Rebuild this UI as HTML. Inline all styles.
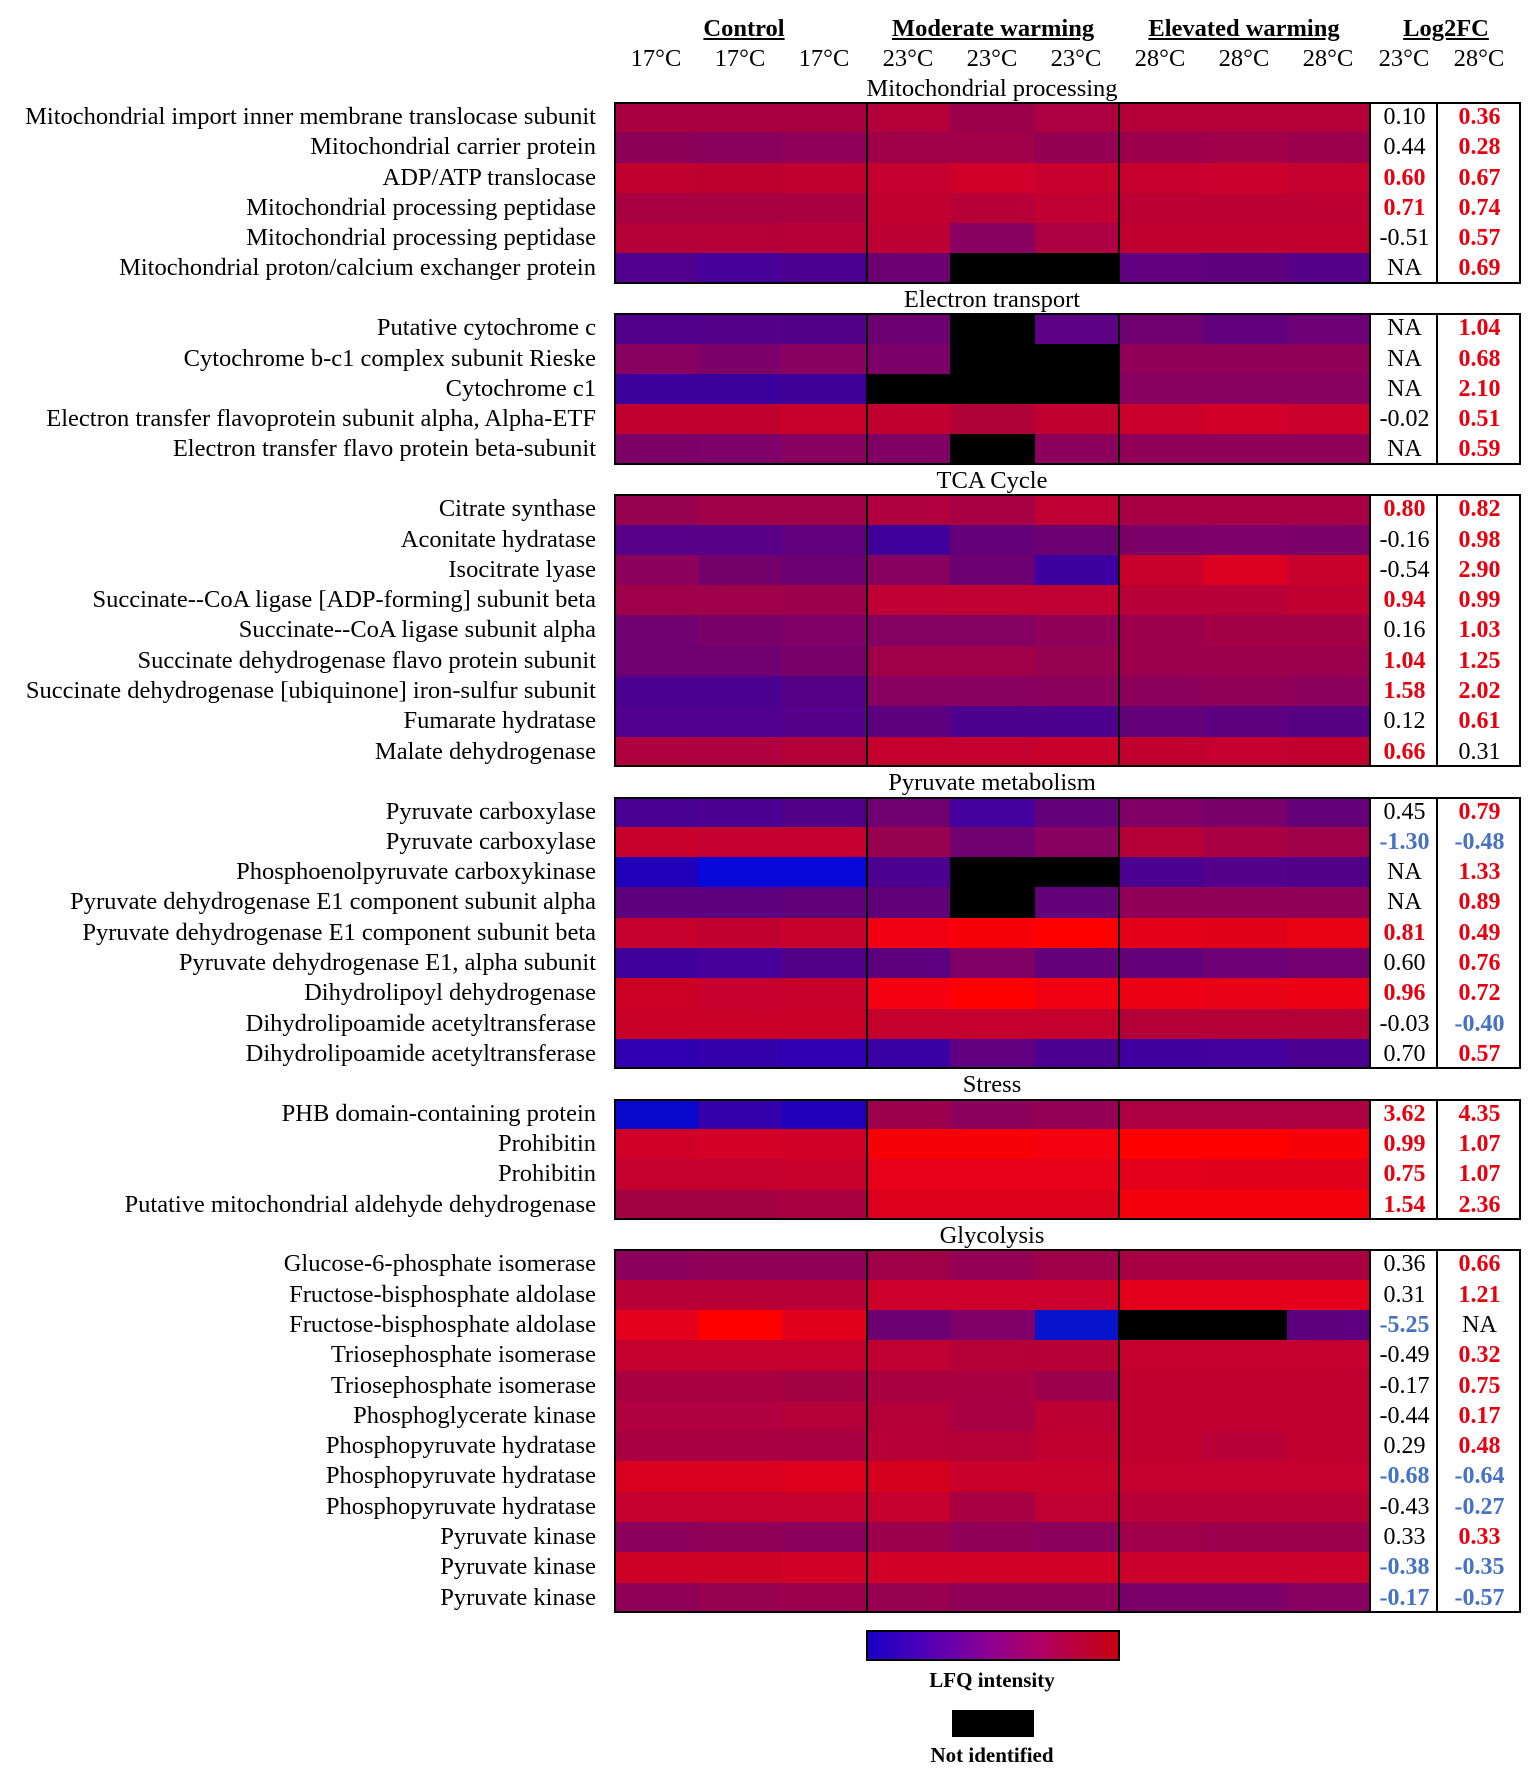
<!DOCTYPE html>
<html><head><meta charset="utf-8"><style>
*{margin:0;padding:0;box-sizing:border-box}
body{width:1535px;height:1772px;background:#fff;position:relative;font-family:"Liberation Serif",serif;color:#000;overflow:hidden}
.h{position:absolute;font-size:24.5px;line-height:26px;text-align:center;white-space:nowrap}
.g{font-weight:bold;text-decoration:underline}
.blk{position:absolute;left:614px;width:907px}
.r{position:relative;height:30.3px;display:flex}
.r i{display:block;width:84.11px;height:100%}
.r b{display:block;height:100%;font-weight:normal;font-size:24px;line-height:30.3px;text-align:center;background:#fff;white-space:nowrap;overflow:visible}
.r b:nth-of-type(1){width:67px}.r b:nth-of-type(2){width:83px}
.r span{position:absolute;right:925px;top:0;line-height:30.3px;font-size:24.5px;white-space:nowrap}
.red{color:#e8000e;font-weight:bold!important}.blu{color:#4472c4;font-weight:bold!important}
.o{position:absolute;top:0;bottom:0;border:2px solid #000}
.st{position:absolute;left:792px;width:400px;text-align:center;font-size:24.5px;line-height:26px}
</style></head><body>
<div class="h g" style="left:644px;width:200px;top:16px">Control</div>
<div class="h g" style="left:892px;width:200px;top:16px">Moderate warming</div>
<div class="h g" style="left:1144px;width:200px;top:16px">Elevated warming</div>
<div class="h g" style="left:1346px;width:200px;top:16px">Log2FC</div>
<div class="h" style="left:616px;width:80px;top:46px">17°C</div>
<div class="h" style="left:700px;width:80px;top:46px">17°C</div>
<div class="h" style="left:784px;width:80px;top:46px">17°C</div>
<div class="h" style="left:868px;width:80px;top:46px">23°C</div>
<div class="h" style="left:952px;width:80px;top:46px">23°C</div>
<div class="h" style="left:1036px;width:80px;top:46px">23°C</div>
<div class="h" style="left:1120px;width:80px;top:46px">28°C</div>
<div class="h" style="left:1204px;width:80px;top:46px">28°C</div>
<div class="h" style="left:1288px;width:80px;top:46px">28°C</div>
<div class="h" style="left:1364px;width:80px;top:46px">23°C</div>
<div class="h" style="left:1439px;width:80px;top:46px">28°C</div>

<div class="st" style="top:76px">Mitochondrial processing</div>
<div class="blk" style="top:102px">
<div class="r"><span>Mitochondrial import inner membrane translocase subunit</span><i style="background:#a8003e"></i><i style="background:#a8003e"></i><i style="background:#a8003e"></i><i style="background:#b4003a"></i><i style="background:#9c004a"></i><i style="background:#ac0040"></i><i style="background:#b4003a"></i><i style="background:#b4003a"></i><i style="background:#b4003a"></i><b>0.10</b><b class="red">0.36</b></div>
<div class="r"><span>Mitochondrial carrier protein</span><i style="background:#8c0058"></i><i style="background:#88005a"></i><i style="background:#90005a"></i><i style="background:#a00048"></i><i style="background:#a00048"></i><i style="background:#940052"></i><i style="background:#9c004c"></i><i style="background:#a00048"></i><i style="background:#9c004c"></i><b>0.44</b><b class="red">0.28</b></div>
<div class="r"><span>ADP/ATP translocase</span><i style="background:#c0002e"></i><i style="background:#bc0030"></i><i style="background:#c00030"></i><i style="background:#c40030"></i><i style="background:#d0002a"></i><i style="background:#c8002e"></i><i style="background:#c8002e"></i><i style="background:#cc002c"></i><i style="background:#c4002e"></i><b class="red">0.60</b><b class="red">0.67</b></div>
<div class="r"><span>Mitochondrial processing peptidase</span><i style="background:#a80040"></i><i style="background:#a80040"></i><i style="background:#a8003e"></i><i style="background:#c0002e"></i><i style="background:#b80038"></i><i style="background:#c00032"></i><i style="background:#bc0034"></i><i style="background:#bc0034"></i><i style="background:#bc0034"></i><b class="red">0.71</b><b class="red">0.74</b></div>
<div class="r"><span>Mitochondrial processing peptidase</span><i style="background:#b40038"></i><i style="background:#b40038"></i><i style="background:#b80036"></i><i style="background:#bc0034"></i><i style="background:#880060"></i><i style="background:#ac0042"></i><i style="background:#c0002e"></i><i style="background:#c0002e"></i><i style="background:#c0002e"></i><b>-0.51</b><b class="red">0.57</b></div>
<div class="r"><span>Mitochondrial proton/calcium exchanger protein</span><i style="background:#50008c"></i><i style="background:#48009a"></i><i style="background:#4c0090"></i><i style="background:#6c0070"></i><i style="background:#000"></i><i style="background:#000"></i><i style="background:#600080"></i><i style="background:#5c0080"></i><i style="background:#56008a"></i><b>NA</b><b class="red">0.69</b></div>
<div class="o" style="left:0;width:757px"></div><div class="o" style="left:252px;width:254px"></div><div class="o" style="left:755px;width:69px"></div><div class="o" style="left:822px;width:85px"></div>
</div>

<div class="st" style="top:287px">Electron transport</div>
<div class="blk" style="top:313.3px">
<div class="r"><span>Putative cytochrome c</span><i style="background:#50008a"></i><i style="background:#54008a"></i><i style="background:#52008a"></i><i style="background:#6c0070"></i><i style="background:#000"></i><i style="background:#5c0084"></i><i style="background:#700070"></i><i style="background:#60007c"></i><i style="background:#6c0074"></i><b>NA</b><b class="red">1.04</b></div>
<div class="r"><span>Cytochrome b-c1 complex subunit Rieske</span><i style="background:#880060"></i><i style="background:#7c0068"></i><i style="background:#880060"></i><i style="background:#7c0068"></i><i style="background:#000"></i><i style="background:#000"></i><i style="background:#900058"></i><i style="background:#900058"></i><i style="background:#900058"></i><b>NA</b><b class="red">0.68</b></div>
<div class="r"><span>Cytochrome c1</span><i style="background:#3c009c"></i><i style="background:#3c009c"></i><i style="background:#400098"></i><i style="background:#000"></i><i style="background:#000"></i><i style="background:#000"></i><i style="background:#880060"></i><i style="background:#880060"></i><i style="background:#880060"></i><b>NA</b><b class="red">2.10</b></div>
<div class="r"><span>Electron transfer flavoprotein subunit alpha, Alpha-ETF</span><i style="background:#c0002e"></i><i style="background:#c0002e"></i><i style="background:#c8002c"></i><i style="background:#c0002e"></i><i style="background:#b00038"></i><i style="background:#c0002e"></i><i style="background:#cc002c"></i><i style="background:#d0002a"></i><i style="background:#cc002c"></i><b>-0.02</b><b class="red">0.51</b></div>
<div class="r"><span>Electron transfer flavo protein beta-subunit</span><i style="background:#7c0066"></i><i style="background:#80006a"></i><i style="background:#880060"></i><i style="background:#800064"></i><i style="background:#000"></i><i style="background:#8c005c"></i><i style="background:#900058"></i><i style="background:#900058"></i><i style="background:#900058"></i><b>NA</b><b class="red">0.59</b></div>
<div class="o" style="left:0;width:757px"></div><div class="o" style="left:252px;width:254px"></div><div class="o" style="left:755px;width:69px"></div><div class="o" style="left:822px;width:85px"></div>
</div>

<div class="st" style="top:468px">TCA Cycle</div>
<div class="blk" style="top:494.3px">
<div class="r"><span>Citrate synthase</span><i style="background:#980050"></i><i style="background:#a00048"></i><i style="background:#a00048"></i><i style="background:#b0003e"></i><i style="background:#a80042"></i><i style="background:#c00034"></i><i style="background:#a80044"></i><i style="background:#a80044"></i><i style="background:#a80044"></i><b class="red">0.80</b><b class="red">0.82</b></div>
<div class="r"><span>Aconitate hydratase</span><i style="background:#58008a"></i><i style="background:#5a0088"></i><i style="background:#60007c"></i><i style="background:#40009a"></i><i style="background:#640078"></i><i style="background:#6c0070"></i><i style="background:#7c0068"></i><i style="background:#80006a"></i><i style="background:#7c0068"></i><b>-0.16</b><b class="red">0.98</b></div>
<div class="r"><span>Isocitrate lyase</span><i style="background:#8c005c"></i><i style="background:#74006c"></i><i style="background:#6c0070"></i><i style="background:#880060"></i><i style="background:#6c0070"></i><i style="background:#3c00a0"></i><i style="background:#c8002c"></i><i style="background:#dc0020"></i><i style="background:#c8002c"></i><b>-0.54</b><b class="red">2.90</b></div>
<div class="r"><span>Succinate--CoA ligase [ADP-forming] subunit beta</span><i style="background:#a0004a"></i><i style="background:#a0004a"></i><i style="background:#9c004c"></i><i style="background:#c00034"></i><i style="background:#c00032"></i><i style="background:#c00032"></i><i style="background:#b80038"></i><i style="background:#b80038"></i><i style="background:#c00030"></i><b class="red">0.94</b><b class="red">0.99</b></div>
<div class="r"><span>Succinate--CoA ligase subunit alpha</span><i style="background:#700070"></i><i style="background:#780068"></i><i style="background:#800068"></i><i style="background:#840062"></i><i style="background:#840062"></i><i style="background:#900058"></i><i style="background:#9c004c"></i><i style="background:#a40046"></i><i style="background:#a40046"></i><b>0.16</b><b class="red">1.03</b></div>
<div class="r"><span>Succinate dehydrogenase flavo protein subunit</span><i style="background:#700070"></i><i style="background:#700070"></i><i style="background:#780068"></i><i style="background:#a00048"></i><i style="background:#a00048"></i><i style="background:#980050"></i><i style="background:#9c004c"></i><i style="background:#9c004c"></i><i style="background:#9c004c"></i><b class="red">1.04</b><b class="red">1.25</b></div>
<div class="r"><span>Succinate dehydrogenase [ubiquinone] iron-sulfur subunit</span><i style="background:#4c0090"></i><i style="background:#4c0090"></i><i style="background:#540084"></i><i style="background:#880060"></i><i style="background:#880060"></i><i style="background:#8c005c"></i><i style="background:#8c005c"></i><i style="background:#900058"></i><i style="background:#8c005c"></i><b class="red">1.58</b><b class="red">2.02</b></div>
<div class="r"><span>Fumarate hydratase</span><i style="background:#50008c"></i><i style="background:#50008c"></i><i style="background:#54008a"></i><i style="background:#5c0080"></i><i style="background:#4c008c"></i><i style="background:#4c008c"></i><i style="background:#640078"></i><i style="background:#5c0080"></i><i style="background:#580084"></i><b>0.12</b><b class="red">0.61</b></div>
<div class="r"><span>Malate dehydrogenase</span><i style="background:#b0003e"></i><i style="background:#b00040"></i><i style="background:#b40038"></i><i style="background:#c4002e"></i><i style="background:#c4002e"></i><i style="background:#c8002c"></i><i style="background:#c0002e"></i><i style="background:#c40030"></i><i style="background:#c0002e"></i><b class="red">0.66</b><b>0.31</b></div>
<div class="o" style="left:0;width:757px"></div><div class="o" style="left:252px;width:254px"></div><div class="o" style="left:755px;width:69px"></div><div class="o" style="left:822px;width:85px"></div>
</div>

<div class="st" style="top:770px">Pyruvate metabolism</div>
<div class="blk" style="top:796.5px">
<div class="r"><span>Pyruvate carboxylase</span><i style="background:#480094"></i><i style="background:#4c0090"></i><i style="background:#500088"></i><i style="background:#700070"></i><i style="background:#44009a"></i><i style="background:#640078"></i><i style="background:#800068"></i><i style="background:#780068"></i><i style="background:#640078"></i><b>0.45</b><b class="red">0.79</b></div>
<div class="r"><span>Pyruvate carboxylase</span><i style="background:#c8002c"></i><i style="background:#c40030"></i><i style="background:#c40030"></i><i style="background:#980050"></i><i style="background:#700070"></i><i style="background:#880060"></i><i style="background:#b40038"></i><i style="background:#a80042"></i><i style="background:#a00048"></i><b class="blu">-1.30</b><b class="blu">-0.48</b></div>
<div class="r"><span>Phosphoenolpyruvate carboxykinase</span><i style="background:#2000b8"></i><i style="background:#0808d8"></i><i style="background:#0808d8"></i><i style="background:#4c0090"></i><i style="background:#000"></i><i style="background:#000"></i><i style="background:#4c0090"></i><i style="background:#54008a"></i><i style="background:#500088"></i><b>NA</b><b class="red">1.33</b></div>
<div class="r"><span>Pyruvate dehydrogenase E1 component subunit alpha</span><i style="background:#5c0080"></i><i style="background:#5c0080"></i><i style="background:#600078"></i><i style="background:#600078"></i><i style="background:#000"></i><i style="background:#640078"></i><i style="background:#900058"></i><i style="background:#900058"></i><i style="background:#900058"></i><b>NA</b><b class="red">0.89</b></div>
<div class="r"><span>Pyruvate dehydrogenase E1 component subunit beta</span><i style="background:#c4002e"></i><i style="background:#c00030"></i><i style="background:#c8002c"></i><i style="background:#f00010"></i><i style="background:#f80008"></i><i style="background:#ff0000"></i><i style="background:#e40018"></i><i style="background:#e00018"></i><i style="background:#e80014"></i><b class="red">0.81</b><b class="red">0.49</b></div>
<div class="r"><span>Pyruvate dehydrogenase E1, alpha subunit</span><i style="background:#40009a"></i><i style="background:#48009a"></i><i style="background:#500088"></i><i style="background:#5c0080"></i><i style="background:#800068"></i><i style="background:#640078"></i><i style="background:#640078"></i><i style="background:#6c0074"></i><i style="background:#740070"></i><b>0.60</b><b class="red">0.76</b></div>
<div class="r"><span>Dihydrolipoyl dehydrogenase</span><i style="background:#cc0024"></i><i style="background:#c80030"></i><i style="background:#c8002c"></i><i style="background:#f40010"></i><i style="background:#ff0000"></i><i style="background:#f00010"></i><i style="background:#ec0014"></i><i style="background:#e80016"></i><i style="background:#ec0014"></i><b class="red">0.96</b><b class="red">0.72</b></div>
<div class="r"><span>Dihydrolipoamide acetyltransferase</span><i style="background:#c80028"></i><i style="background:#c80028"></i><i style="background:#c80028"></i><i style="background:#c4002e"></i><i style="background:#c4002e"></i><i style="background:#c4002e"></i><i style="background:#b40038"></i><i style="background:#b40038"></i><i style="background:#b40038"></i><b>-0.03</b><b class="blu">-0.40</b></div>
<div class="r"><span>Dihydrolipoamide acetyltransferase</span><i style="background:#3000b0"></i><i style="background:#3400ac"></i><i style="background:#3000b0"></i><i style="background:#3a00a4"></i><i style="background:#600080"></i><i style="background:#4c0090"></i><i style="background:#4000a0"></i><i style="background:#44009a"></i><i style="background:#4c0090"></i><b>0.70</b><b class="red">0.57</b></div>
<div class="o" style="left:0;width:757px"></div><div class="o" style="left:252px;width:254px"></div><div class="o" style="left:755px;width:69px"></div><div class="o" style="left:822px;width:85px"></div>
</div>

<div class="st" style="top:1072px">Stress</div>
<div class="blk" style="top:1098.7px">
<div class="r"><span>PHB domain-containing protein</span><i style="background:#0808cc"></i><i style="background:#3400ac"></i><i style="background:#2000b8"></i><i style="background:#9c004c"></i><i style="background:#8c005c"></i><i style="background:#940054"></i><i style="background:#ac0040"></i><i style="background:#ac0040"></i><i style="background:#ac0040"></i><b class="red">3.62</b><b class="red">4.35</b></div>
<div class="r"><span>Prohibitin</span><i style="background:#d00028"></i><i style="background:#d40026"></i><i style="background:#d00028"></i><i style="background:#f80008"></i><i style="background:#f80008"></i><i style="background:#f40010"></i><i style="background:#ff0000"></i><i style="background:#ff0000"></i><i style="background:#f80008"></i><b class="red">0.99</b><b class="red">1.07</b></div>
<div class="r"><span>Prohibitin</span><i style="background:#c4002e"></i><i style="background:#c4002e"></i><i style="background:#c8002c"></i><i style="background:#e8001a"></i><i style="background:#e8001a"></i><i style="background:#e8001a"></i><i style="background:#e4001a"></i><i style="background:#e0001c"></i><i style="background:#e0001c"></i><b class="red">0.75</b><b class="red">1.07</b></div>
<div class="r"><span>Putative mitochondrial aldehyde dehydrogenase</span><i style="background:#a40044"></i><i style="background:#a40044"></i><i style="background:#a80040"></i><i style="background:#dc001e"></i><i style="background:#dc001e"></i><i style="background:#dc001e"></i><i style="background:#f4000c"></i><i style="background:#f4000c"></i><i style="background:#f4000c"></i><b class="red">1.54</b><b class="red">2.36</b></div>
<div class="o" style="left:0;width:757px"></div><div class="o" style="left:252px;width:254px"></div><div class="o" style="left:755px;width:69px"></div><div class="o" style="left:822px;width:85px"></div>
</div>

<div class="st" style="top:1223px">Glycolysis</div>
<div class="blk" style="top:1249.4px">
<div class="r"><span>Glucose-6-phosphate isomerase</span><i style="background:#8c005c"></i><i style="background:#900058"></i><i style="background:#900058"></i><i style="background:#a00048"></i><i style="background:#940054"></i><i style="background:#a00048"></i><i style="background:#a80042"></i><i style="background:#a80042"></i><i style="background:#a80042"></i><b>0.36</b><b class="red">0.66</b></div>
<div class="r"><span>Fructose-bisphosphate aldolase</span><i style="background:#b80036"></i><i style="background:#b80036"></i><i style="background:#b80036"></i><i style="background:#cc002a"></i><i style="background:#cc002a"></i><i style="background:#cc002a"></i><i style="background:#e4001a"></i><i style="background:#e4001a"></i><i style="background:#e4001a"></i><b>0.31</b><b class="red">1.21</b></div>
<div class="r"><span>Fructose-bisphosphate aldolase</span><i style="background:#e4001c"></i><i style="background:#ff0000"></i><i style="background:#e0001c"></i><i style="background:#6c0070"></i><i style="background:#800068"></i><i style="background:#0814cc"></i><i style="background:#000"></i><i style="background:#000"></i><i style="background:#5c0080"></i><b class="blu">-5.25</b><b>NA</b></div>
<div class="r"><span>Triosephosphate isomerase</span><i style="background:#c4002e"></i><i style="background:#c4002e"></i><i style="background:#c4002e"></i><i style="background:#c00032"></i><i style="background:#b40038"></i><i style="background:#b80036"></i><i style="background:#c4002e"></i><i style="background:#c4002e"></i><i style="background:#c4002e"></i><b>-0.49</b><b class="red">0.32</b></div>
<div class="r"><span>Triosephosphate isomerase</span><i style="background:#a80040"></i><i style="background:#a80040"></i><i style="background:#a40044"></i><i style="background:#a80040"></i><i style="background:#a80040"></i><i style="background:#9c004c"></i><i style="background:#c00030"></i><i style="background:#c00030"></i><i style="background:#c00030"></i><b>-0.17</b><b class="red">0.75</b></div>
<div class="r"><span>Phosphoglycerate kinase</span><i style="background:#b00040"></i><i style="background:#b00040"></i><i style="background:#b40038"></i><i style="background:#b4003a"></i><i style="background:#a80042"></i><i style="background:#bc0034"></i><i style="background:#c00030"></i><i style="background:#c00030"></i><i style="background:#c00030"></i><b>-0.44</b><b class="red">0.17</b></div>
<div class="r"><span>Phosphopyruvate hydratase</span><i style="background:#a80042"></i><i style="background:#a80042"></i><i style="background:#a80042"></i><i style="background:#b80038"></i><i style="background:#b40038"></i><i style="background:#c00030"></i><i style="background:#c00030"></i><i style="background:#b80036"></i><i style="background:#c00030"></i><b>0.29</b><b class="red">0.48</b></div>
<div class="r"><span>Phosphopyruvate hydratase</span><i style="background:#d8001e"></i><i style="background:#d8001e"></i><i style="background:#dc001c"></i><i style="background:#d4001e"></i><i style="background:#c8002a"></i><i style="background:#c8002c"></i><i style="background:#c4002e"></i><i style="background:#c4002e"></i><i style="background:#c4002e"></i><b class="blu">-0.68</b><b class="blu">-0.64</b></div>
<div class="r"><span>Phosphopyruvate hydratase</span><i style="background:#c4002e"></i><i style="background:#c4002e"></i><i style="background:#c4002e"></i><i style="background:#c4002e"></i><i style="background:#a80042"></i><i style="background:#c00032"></i><i style="background:#b80036"></i><i style="background:#b80036"></i><i style="background:#b80036"></i><b>-0.43</b><b class="blu">-0.27</b></div>
<div class="r"><span>Pyruvate kinase</span><i style="background:#8c005c"></i><i style="background:#900058"></i><i style="background:#8c005c"></i><i style="background:#9c004c"></i><i style="background:#900058"></i><i style="background:#8c005c"></i><i style="background:#a0004a"></i><i style="background:#9c004c"></i><i style="background:#9c004c"></i><b>0.33</b><b class="red">0.33</b></div>
<div class="r"><span>Pyruvate kinase</span><i style="background:#cc0026"></i><i style="background:#cc0026"></i><i style="background:#d00028"></i><i style="background:#d00028"></i><i style="background:#d00028"></i><i style="background:#d00028"></i><i style="background:#cc002c"></i><i style="background:#cc002c"></i><i style="background:#cc002c"></i><b class="blu">-0.38</b><b class="blu">-0.35</b></div>
<div class="r"><span>Pyruvate kinase</span><i style="background:#900058"></i><i style="background:#980050"></i><i style="background:#9c004c"></i><i style="background:#980050"></i><i style="background:#900058"></i><i style="background:#900058"></i><i style="background:#7c0068"></i><i style="background:#7c0068"></i><i style="background:#880060"></i><b class="blu">-0.17</b><b class="blu">-0.57</b></div>
<div class="o" style="left:0;width:757px"></div><div class="o" style="left:252px;width:254px"></div><div class="o" style="left:755px;width:69px"></div><div class="o" style="left:822px;width:85px"></div>
</div>

<div style="position:absolute;left:866px;top:1630px;width:254px;height:31px;border:2px solid #000;background:linear-gradient(to right,#1800c8,#6000b0 30%,#900090 50%,#b00060 70%,#c80010)"></div>
<div class="h" style="left:892px;width:200px;top:1667px;font-weight:bold;font-size:21px">LFQ intensity</div>
<div style="position:absolute;left:952px;top:1710px;width:82px;height:27px;background:#000"></div>
<div class="h" style="left:892px;width:200px;top:1742px;font-weight:bold;font-size:21px">Not identified</div>
</body></html>
